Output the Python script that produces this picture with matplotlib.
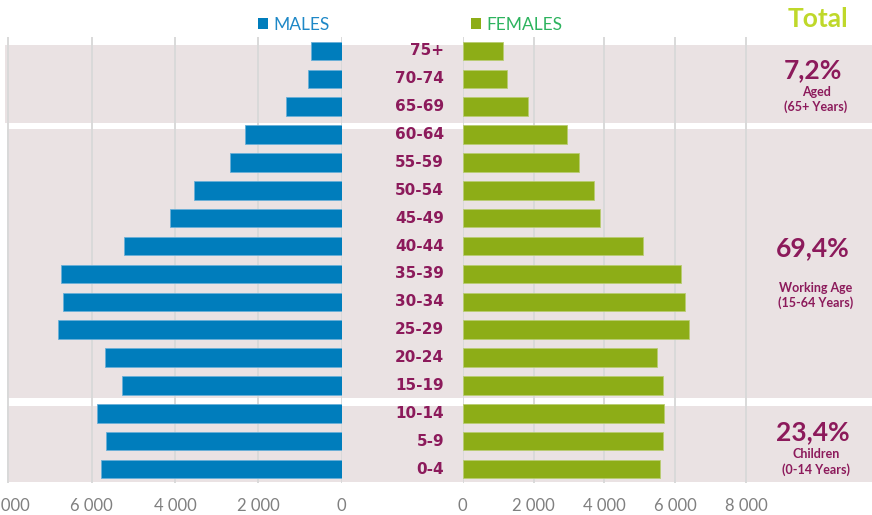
import matplotlib
matplotlib.use('Agg')
import matplotlib.pyplot as plt
from matplotlib import transforms

# age groups, bottom to top
ages = ['0-4', '5-9', '10-14', '15-19', '20-24', '25-29', '30-34', '35-39',
        '40-44', '45-49', '50-54', '55-59', '60-64', '65-69', '70-74', '75+']
males = [5784, 5664, 5865, 5280, 5680, 6808, 6696, 6736,
         5225, 4130, 3550, 2690, 2320, 1337, 802, 737]
females = [5570, 5660, 5686, 5666, 5490, 6390, 6280, 6170,
           5090, 3880, 3710, 3290, 2946, 1836, 1243, 1130]
ticks = [0, 2000, 4000, 6000, 8000]

# shares by broad group (first/last row index of each group)
group_rows = [(0, 2), (3, 12), (13, 15)]
group_pct = ['23,4%', '69,4%', '7,2%']
group_name = ['Children', 'Working Age', 'Aged']
group_span = ['(0-14 Years)', '(15-64 Years)', '(65+ Years)']

BLUE = '#007DBC'
GREEN = '#8DAD17'
PURPLE = '#8C1A5B'
BAND = '#EAE2E3'
GRID = '#D9D9D9'
plt.rcParams['font.family'] = ['Lato', 'DejaVu Sans']

W, H = 872, 515
fig = plt.figure(figsize=(W / 100, H / 100), dpi=100)
bot = (H - 483) / H
hgt = (483 - 37) / H

# background bands across the whole width
bg = fig.add_axes([0, bot, 1, hgt], zorder=0)
bg.set_ylim(-0.5, len(ages) - 0.5)
bg.set_xlim(0, 1)
bg.axis('off')
band_pad = [(0.48, 0.25), (0.44, 0.20), (0.57, 0.22)]
for (lo, hi), (pl, ph), x0 in zip(group_rows, band_pad, [7, 7, 5]):
    bg.axhspan(lo - pl, hi + ph, xmin=x0 / W, xmax=1, color=BAND, lw=0)

y = range(len(ages))
axl = fig.add_axes([0, bot, 341.7 / W, hgt], zorder=1)
axr = fig.add_axes([462.7 / W, bot, (W - 462.7) / W, hgt], zorder=1)

axl.barh(y, males, height=0.66, color=BLUE, edgecolor='#6AAFD8', lw=0.6, zorder=3, label='MALES')
axr.barh(y, females, height=0.66, color=GREEN, edgecolor='#B9CC72', lw=0.6, zorder=3, label='FEMALES')
axl.set_xlim(8200, 0)
axr.set_xlim(0, (W - 462.7) / 35.4 * 1000)

for ax in (axl, axr):
    ax.patch.set_alpha(0)
    ax.set_ylim(-0.5, len(ages) - 0.5)
    ax.set_xticks(ticks)
    ax.set_xticklabels([f'{t:,}'.replace(',', ' ') for t in ticks])
    ax.set_yticks([])
    ax.tick_params(axis='x', length=0, pad=11, labelsize=12, labelcolor='#808080')
    ax.grid(axis='x', color=GRID, lw=1.4, zorder=1)
    ax.set_axisbelow(True)
    for s in ax.spines.values():
        s.set_visible(False)

# age labels in the middle
tr = transforms.blended_transform_factory(fig.transFigure, axr.transData)
for i, a in enumerate(ages):
    fig.text(444 / W, i, a, transform=tr, ha='right', va='center',
             fontsize=11, fontweight='bold', color=PURPLE, family='DejaVu Sans')

# legends
fig.legend(handles=axl.patches[:1], labels=['MALES'], loc='center left',
           bbox_to_anchor=(258 / W, 1 - 25 / H), frameon=False, fontsize=12.5,
           handlelength=0.55, handleheight=0.6, handletextpad=0.35,
           borderpad=0, borderaxespad=0, labelcolor='#1E88C7')
fig.legend(handles=axr.patches[:1], labels=['FEMALES'], loc='center left',
           bbox_to_anchor=(471 / W, 1 - 25 / H), frameon=False, fontsize=12.5,
           handlelength=0.55, handleheight=0.6, handletextpad=0.35,
           borderpad=0, borderaxespad=0, labelcolor='#2DB35E')
for lg in fig.legends:
    for p in lg.get_patches():
        p.set_edgecolor('none')

# totals on the right
fig.text(818 / W, 1 - 19 / H, 'Total', ha='center', va='center',
         fontsize=19, fontweight='bold', color='#BFD82A')
pct_y = [432, 248, 70]
name_y = [454, 288, 92]
span_y = [470, 303, 107]
for k in range(3):
    fig.text(813 / W, 1 - pct_y[k] / H, group_pct[k], ha='center', va='center',
             fontsize=19, fontweight='bold', color=PURPLE)
    fig.text(816 / W, 1 - name_y[k] / H, group_name[k], ha='center', va='center',
             fontsize=9, fontweight='bold', color=PURPLE)
    fig.text(816 / W, 1 - span_y[k] / H, group_span[k], ha='center', va='center',
             fontsize=9, fontweight='bold', color=PURPLE)

fig.savefig('out.png', dpi=100)
